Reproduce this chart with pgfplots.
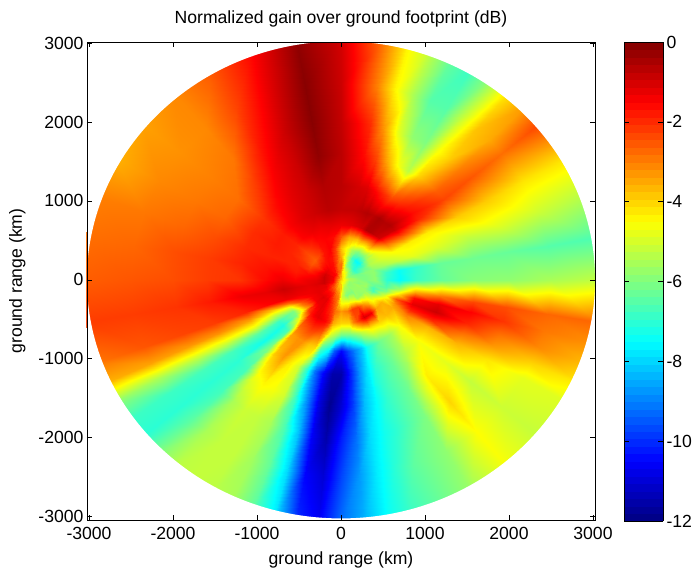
\documentclass[border=0pt]{standalone}
\usepackage{fontspec}
\setmainfont{Liberation Sans}
\usepackage{pgfplots}
\pgfplotsset{compat=1.18}
\begin{document}
\begin{tikzpicture}[x=1pt,y=1pt]
\path[use as bounding box] (0,0) rectangle (696,574);
\begin{axis}[
  at={(87pt,54pt)}, anchor=south west,
  scale only axis, width=508pt, height=478pt,
  xmin=-3024, xmax=3024, ymin=-3045, ymax=3015,
  xtick={-3000,-2000,...,3000}, ytick={-3000,-2000,...,3000},
  xticklabels={-3000,-2000,-1000,0,1000,2000,3000},
  yticklabels={-3000,-2000,-1000,0,1000,2000,3000},
  tick align=inside, tickpos=both, major tick length=5pt,
  tick style={black,line width=0.6pt}, axis line style={line width=0.8pt},
  axis on top,
  tick label style={font=\fontsize{17.6}{20}\selectfont},
  xticklabel style={yshift=-4pt},
  title={Normalized gain over ground footprint (dB)},
  title style={font=\fontsize{17.6}{20}\selectfont, at={(0.5,1)}, anchor=south, yshift=5pt},
  xlabel={ground range (km)},
  ylabel={ground range (km)},
  xlabel style={yshift=-5pt},
  ylabel style={yshift=6pt},
  label style={font=\fontsize{17.6}{20}\selectfont},
  colormap/jet,
  point meta min=-12, point meta max=0,
  colorbar sampled,
  colorbar style={
    samples=65,
    at={(1.0571,1.0)}, anchor=north west,
    width=39pt, height=479pt,
    ytick={-12,-10,...,0},
    yticklabels={-12,-10,-8,-6,-4,-2,0},
    tick align=inside, major tick length=5pt,
    ytick pos=both, yticklabel pos=right,
    yticklabel style={font=\fontsize{17.6}{20}\selectfont},
    axis line style={line width=0.8pt},
  },
]
\addplot[surf, shader=interp, mesh/cols=13, point meta=explicit] table[row sep=\\, x expr=\thisrow{r}*cos(\thisrow{t}), y expr=\thisrow{r}*sin(\thisrow{t}), meta=v] {
t r v\\
0 0 -4\\0 100 -5.5\\0 200 -5.8\\0 300 -6\\0 400 -5.8\\0 550 -7\\0 700 -7.5\\0 900 -6.8\\0 1200 -6.3\\0 1600 -5.9\\0 2000 -5.8\\0 2500 -5.5\\0 3100 -5.2\\
10 0 -4\\10 100 -5.5\\10 200 -6\\10 300 -6\\10 400 -5.8\\10 550 -6.8\\10 700 -7.4\\10 900 -6.9\\10 1200 -6.3\\10 1600 -6.2\\10 2000 -6.3\\10 2500 -6.5\\10 3100 -6.6\\
20 0 -4\\20 100 -5.8\\20 200 -6.2\\20 300 -5.9\\20 400 -5.8\\20 550 -5.5\\20 700 -5.2\\20 900 -4.8\\20 1200 -4.9\\20 1600 -5.2\\20 2000 -4.9\\20 2500 -5.1\\20 3100 -5.4\\
30 0 -4\\30 100 -5.8\\30 200 -6.8\\30 300 -6.3\\30 400 -5.4\\30 550 -4.9\\30 700 -4.5\\30 900 -4.3\\30 1200 -4.3\\30 1600 -3.9\\30 2000 -3.9\\30 2500 -4.2\\30 3100 -4.2\\
40 0 -4\\40 100 -5.5\\40 200 -7\\40 300 -7\\40 400 -5.5\\40 550 -4.6\\40 700 -2.8\\40 900 -1.9\\40 1200 -1.9\\40 1600 -2.3\\40 2000 -2.5\\40 2500 -2.8\\40 3100 -2.3\\
45 0 -4\\45 100 -5.3\\45 200 -7\\45 300 -7.4\\45 400 -5.8\\45 550 -4\\45 700 -2\\45 900 -0.9\\45 1200 -1.6\\45 1600 -2.6\\45 2000 -3\\45 2500 -3.5\\45 3100 -3.3\\
50 0 -4\\50 100 -5.2\\50 200 -6.8\\50 300 -7.5\\50 400 -6\\50 550 -3.5\\50 700 -1\\50 900 -0.6\\50 1200 -1.8\\50 1600 -3.3\\50 2000 -3.9\\50 2500 -3.8\\50 3100 -4.2\\
55 0 -4\\55 100 -5\\55 200 -6.6\\55 300 -7.4\\55 400 -6\\55 550 -3.6\\55 700 -0.8\\55 900 -0.6\\55 1200 -2.1\\55 1600 -4\\55 2000 -4.6\\55 2500 -5.2\\55 3100 -5.8\\
60 0 -4\\60 100 -4.8\\60 200 -6.3\\60 300 -7\\60 400 -6\\60 550 -3.5\\60 700 -0.6\\60 900 -0.5\\60 1200 -2.3\\60 1600 -5.3\\60 2000 -6\\60 2500 -6.5\\60 3100 -6.8\\
65 0 -4\\65 100 -4.7\\65 200 -6.2\\65 300 -6.8\\65 400 -5.8\\65 550 -3.5\\65 700 -0.6\\65 900 -0.7\\65 1200 -2\\65 1600 -4.6\\65 2000 -5.8\\65 2500 -6.5\\65 3100 -6.3\\
70 0 -4\\70 100 -4.6\\70 200 -6\\70 300 -6.2\\70 400 -5.5\\70 550 -3.7\\70 700 -1\\70 900 -0.6\\70 1200 -1.5\\70 1600 -3.5\\70 2000 -4.8\\70 2500 -5.5\\70 3100 -5.2\\
75 0 -4\\75 100 -4.4\\75 200 -5.3\\75 300 -5.6\\75 400 -5.1\\75 550 -3.6\\75 700 -1.1\\75 900 -0.7\\75 1200 -1.1\\75 1600 -2.3\\75 2000 -3.3\\75 2500 -4.4\\75 3100 -4.4\\
80 0 -4\\80 100 -4.2\\80 200 -4.5\\80 300 -4.8\\80 400 -4.7\\80 550 -3.5\\80 700 -1.2\\80 900 -0.8\\80 1200 -1\\80 1600 -1.6\\80 2000 -2\\80 2500 -3\\80 3100 -3\\
90 0 -4\\90 100 -3.3\\90 200 -2.8\\90 300 -3.5\\90 400 -3.8\\90 550 -2.5\\90 700 -1.3\\90 900 -0.8\\90 1200 -0.7\\90 1600 -0.7\\90 2000 -0.8\\90 2500 -0.9\\90 3100 -1\\
100 0 -4\\100 100 -2.8\\100 200 -2.8\\100 300 -2.5\\100 400 -2.2\\100 550 -1.6\\100 700 -1.2\\100 900 -0.7\\100 1200 -0.6\\100 1600 -0.2\\100 2000 -0.1\\100 2500 -0.1\\100 3100 -0.2\\
110 0 -4\\110 100 -2.5\\110 200 -2\\110 300 -1.7\\110 400 -1.5\\110 550 -1.5\\110 700 -1.3\\110 900 -0.9\\110 1200 -0.9\\110 1600 -0.9\\110 2000 -0.9\\110 2500 -1.2\\110 3100 -1.5\\
120 0 -4\\120 100 -2.2\\120 200 -1.6\\120 300 -1.6\\120 400 -1.7\\120 550 -1.6\\120 700 -1.3\\120 900 -1.1\\120 1200 -1.2\\120 1600 -1.4\\120 2000 -1.8\\120 2500 -2.3\\120 3100 -2.5\\
130 0 -4\\130 100 -1.7\\130 200 -1.5\\130 300 -1.7\\130 400 -2.3\\130 550 -2\\130 700 -1.5\\130 900 -1.4\\130 1200 -1.6\\130 1600 -2.2\\130 2000 -2.9\\130 2500 -3.1\\130 3100 -3.1\\
140 0 -4\\140 100 -1.5\\140 200 -1.3\\140 300 -1.8\\140 400 -2.6\\140 550 -2.3\\140 700 -1.9\\140 900 -1.8\\140 1200 -2.1\\140 1600 -2.8\\140 2000 -3\\140 2500 -3.2\\140 3100 -3.4\\
150 0 -4\\150 100 -1.5\\150 200 -1.2\\150 300 -2\\150 400 -2.5\\150 550 -2.1\\150 700 -1.9\\150 900 -1.8\\150 1200 -2\\150 1600 -2.7\\150 2000 -2.9\\150 2500 -3.1\\150 3100 -3.6\\
160 0 -4\\160 100 -1.3\\160 200 -1\\160 300 -1.6\\160 400 -2.1\\160 550 -1.9\\160 700 -1.9\\160 900 -1.9\\160 1200 -2\\160 1600 -2.4\\160 2000 -2.7\\160 2500 -2.9\\160 3100 -3\\
170 0 -4\\170 100 -1.4\\170 200 -0.9\\170 300 -1.4\\170 400 -1.6\\170 550 -1.8\\170 700 -1.6\\170 900 -1.7\\170 1200 -1.9\\170 1600 -2.2\\170 2000 -2.4\\170 2500 -2.7\\170 3100 -2.8\\
180 0 -4\\180 100 -1.4\\180 200 -0.9\\180 300 -1.2\\180 400 -1.3\\180 550 -1.5\\180 700 -1.3\\180 900 -1.6\\180 1200 -2.1\\180 1600 -2.2\\180 2000 -2.4\\180 2500 -2.5\\180 3100 -2.6\\
190 0 -4\\190 100 -1.5\\190 200 -0.9\\190 300 -1.1\\190 400 -1.2\\190 550 -1.1\\190 700 -0.9\\190 900 -1.2\\190 1200 -1.3\\190 1600 -1.8\\190 2000 -2.1\\190 2500 -2.2\\190 3100 -2.2\\
200 0 -4\\200 100 -1.7\\200 200 -1.2\\200 300 -1.2\\200 400 -1.3\\200 550 -1.3\\200 700 -1.3\\200 900 -1.5\\200 1200 -1.9\\200 1600 -2.2\\200 2000 -2.3\\200 2500 -2.5\\200 3100 -2.9\\
205 0 -4\\205 100 -1.9\\205 200 -1.2\\205 300 -1.2\\205 400 -1.3\\205 550 -1.6\\205 700 -2.7\\205 900 -3.8\\205 1200 -3.4\\205 1600 -3.2\\205 2000 -3.3\\205 2500 -3.4\\205 3100 -3.6\\
210 0 -4\\210 100 -2.2\\210 200 -1.3\\210 300 -1.2\\210 400 -1.4\\210 550 -2.5\\210 700 -4.7\\210 900 -5.3\\210 1200 -4.7\\210 1600 -5\\210 2000 -5.3\\210 2500 -5.5\\210 3100 -5.8\\
215 0 -4\\215 100 -2.3\\215 200 -1.4\\215 300 -1.2\\215 400 -1.4\\215 550 -3\\215 700 -6\\215 900 -6.8\\215 1200 -6.5\\215 1600 -6.7\\215 2000 -6.7\\215 2500 -6.8\\215 3100 -6.8\\
220 0 -4\\220 100 -2.5\\220 200 -1.6\\220 300 -1.2\\220 400 -1.4\\220 550 -3.5\\220 700 -6\\220 900 -7.2\\220 1200 -7.3\\220 1600 -7\\220 2000 -7\\220 2500 -7\\220 3100 -7\\
225 0 -4\\225 100 -2.7\\225 200 -1.6\\225 300 -1.1\\225 400 -1.3\\225 550 -2.3\\225 700 -4.6\\225 900 -6.6\\225 1200 -6\\225 1600 -6.7\\225 2000 -6.7\\225 2500 -6.4\\225 3100 -6\\
230 0 -4\\230 100 -2.8\\230 200 -1.6\\230 300 -1.2\\230 400 -1.3\\230 550 -1.7\\230 700 -2.5\\230 900 -3.4\\230 1200 -3.8\\230 1600 -4.7\\230 2000 -5.5\\230 2500 -5.5\\230 3100 -5.3\\
235 0 -4\\235 100 -3\\235 200 -1.7\\235 300 -1.2\\235 400 -1.2\\235 550 -1.3\\235 700 -2.3\\235 900 -3.2\\235 1200 -3.3\\235 1600 -4.4\\235 2000 -5.1\\235 2500 -5.2\\235 3100 -5.2\\
240 0 -4\\240 100 -3\\240 200 -1.9\\240 300 -1.4\\240 400 -1.3\\240 550 -1.2\\240 700 -2.1\\240 900 -3.2\\240 1200 -4.3\\240 1600 -4.6\\240 2000 -5.2\\240 2500 -5.2\\240 3100 -5.3\\
245 0 -4\\245 100 -3.3\\245 200 -2.2\\245 300 -1.7\\245 400 -1.6\\245 550 -1.3\\245 700 -2.2\\245 900 -3.8\\245 1200 -5\\245 1600 -5\\245 2000 -5.5\\245 2500 -5.6\\245 3100 -5.5\\
250 0 -4\\250 100 -3.5\\250 200 -2.6\\250 300 -2\\250 400 -1.9\\250 550 -1.5\\250 700 -2.5\\250 900 -4\\250 1200 -7\\250 1600 -6.8\\250 2000 -6.6\\250 2500 -6.3\\250 3100 -6.4\\
255 0 -4\\255 100 -3.6\\255 200 -2.9\\255 300 -2.4\\255 400 -2.2\\255 550 -2\\255 700 -3.7\\255 900 -6.5\\255 1200 -9.2\\255 1600 -8.8\\255 2000 -8.2\\255 2500 -7.9\\255 3100 -7.7\\
260 0 -4\\260 100 -3.7\\260 200 -3\\260 300 -3\\260 400 -2.8\\260 550 -3.5\\260 700 -5\\260 900 -7.5\\260 1200 -10.5\\260 1600 -10.8\\260 2000 -10.6\\260 2500 -10.5\\260 3100 -10\\
265 0 -4\\265 100 -3.8\\265 200 -3.9\\265 300 -3.9\\265 400 -3\\265 550 -3.8\\265 700 -5.6\\265 900 -9.5\\265 1200 -11.5\\265 1600 -11.8\\265 2000 -11.5\\265 2500 -11\\265 3100 -10.6\\
270 0 -4\\270 100 -3.8\\270 200 -4.8\\270 300 -4.5\\270 400 -3.3\\270 550 -4\\270 700 -6.2\\270 900 -10.5\\270 1200 -11.5\\270 1600 -11\\270 2000 -10.2\\270 2500 -9.7\\270 3100 -9.2\\
275 0 -4\\275 100 -4.2\\275 200 -5.2\\275 300 -4.6\\275 400 -3.1\\275 550 -4\\275 700 -6.2\\275 900 -9.7\\275 1200 -10.2\\275 1600 -9.8\\275 2000 -9.2\\275 2500 -8.7\\275 3100 -8.4\\
280 0 -4\\280 100 -4.7\\280 200 -5.5\\280 300 -4.5\\280 400 -3\\280 550 -4\\280 700 -6\\280 900 -9\\280 1200 -8.8\\280 1600 -8.3\\280 2000 -7.9\\280 2500 -7.7\\280 3100 -7.5\\
285 0 -4\\285 100 -5\\285 200 -5.8\\285 300 -4.5\\285 400 -2.5\\285 550 -3\\285 700 -5.6\\285 900 -8.2\\285 1200 -7.8\\285 1600 -7.5\\285 2000 -7.3\\285 2500 -7\\285 3100 -6.9\\
290 0 -4\\290 100 -5.3\\290 200 -6\\290 300 -4.5\\290 400 -2.2\\290 550 -2.4\\290 700 -5.2\\290 900 -7.3\\290 1200 -7\\290 1600 -6.9\\290 2000 -6.9\\290 2500 -6.4\\290 3100 -6.5\\
300 0 -4\\300 100 -5.5\\300 200 -6\\300 300 -4.8\\300 400 -2.2\\300 550 -1\\300 700 -4.3\\300 900 -6.2\\300 1200 -6.3\\300 1600 -6.2\\300 2000 -6\\300 2500 -5.8\\300 3100 -5.7\\
310 0 -4\\310 100 -5.5\\310 200 -6\\310 300 -5.6\\310 400 -3.3\\310 550 -1.3\\310 700 -4\\310 900 -5.6\\310 1200 -5.3\\310 1600 -4.3\\310 2000 -4\\310 2500 -4.5\\310 3100 -4.6\\
320 0 -4\\320 100 -5.7\\320 200 -5.7\\320 300 -5.8\\320 400 -4.3\\320 550 -3.4\\320 700 -3.7\\320 900 -4.5\\320 1200 -4.6\\320 1600 -4.8\\320 2000 -5.2\\320 2500 -5.1\\320 3100 -5.2\\
330 0 -4\\330 100 -5.8\\330 200 -5.7\\330 300 -5.7\\330 400 -5.2\\330 550 -3.6\\330 700 -3.5\\330 900 -3\\330 1200 -3.6\\330 1600 -3.6\\330 2000 -4.2\\330 2500 -4.8\\330 3100 -4.9\\
335 0 -4\\335 100 -5.8\\335 200 -5.7\\335 300 -5.7\\335 400 -6\\335 550 -4.4\\335 700 -3.2\\335 900 -1.9\\335 1200 -1.9\\335 1600 -2.8\\335 2000 -3.3\\335 2500 -4\\335 3100 -4.3\\
340 0 -4\\340 100 -5.8\\340 200 -5.6\\340 300 -5.8\\340 400 -6.7\\340 550 -5\\340 700 -2.5\\340 900 -1.2\\340 1200 -0.9\\340 1600 -1.9\\340 2000 -2.8\\340 2500 -3.1\\340 3100 -3.7\\
345 0 -4\\345 100 -5.8\\345 200 -5.7\\345 300 -5.6\\345 400 -6.7\\345 550 -6\\345 700 -4.2\\345 900 -1.6\\345 1200 -1.2\\345 1600 -1.5\\345 2000 -2.1\\345 2500 -2.9\\345 3100 -3.2\\
350 0 -4\\350 100 -5.7\\350 200 -5.9\\350 300 -5.7\\350 400 -6.3\\350 550 -6.5\\350 700 -5.6\\350 900 -3.5\\350 1200 -2.9\\350 1600 -2.3\\350 2000 -2.4\\350 2500 -2.7\\350 3100 -2.7\\
360 0 -4\\360 100 -5.5\\360 200 -5.8\\360 300 -6\\360 400 -5.8\\360 550 -7\\360 700 -7.5\\360 900 -6.8\\360 1200 -6.3\\360 1600 -5.9\\360 2000 -5.8\\360 2500 -5.5\\360 3100 -5.2\\
};
\fill[white, even odd rule] (axis cs:-3300,-3300) rectangle (axis cs:3300,3300) (axis cs:0,0) ellipse [x radius=254.1pt, y radius=238.6pt];
\end{axis}
\end{tikzpicture}
\end{document}
